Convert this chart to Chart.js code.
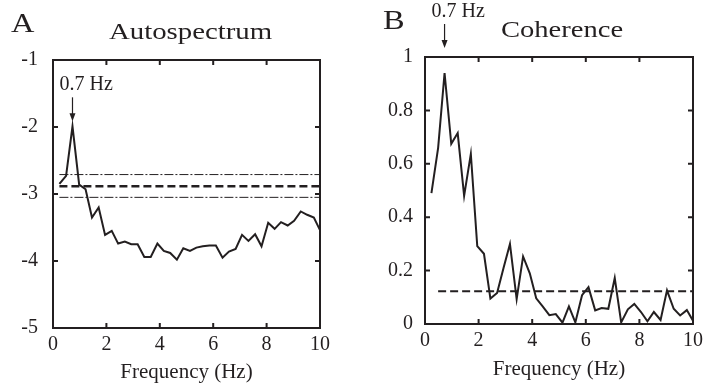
<!DOCTYPE html>
<html>
<head>
<meta charset="utf-8">
<script src="https://cdn.jsdelivr.net/npm/chart.js@4.4.0/dist/chart.umd.min.js"></script>
<style>
  html, body { margin: 0; padding: 0; background: #fff; }
  #wrap { position: relative; width: 708px; height: 385px; overflow: hidden; }
  canvas { position: absolute; top: 0; }
  .lbl {
    position: absolute; font-family: "Liberation Serif", "DejaVu Serif", serif;
    color: #231f20; line-height: 1; white-space: nowrap; transform-origin: 0 0;
  }
</style>
</head>
<body>
<div id="wrap">
  <canvas id="chartA" width="354" height="385" style="left:0"></canvas>
  <canvas id="chartB" width="354" height="385" style="left:354px"></canvas>
  <div class="lbl" style="left:11px;top:10px;font-size:27px;transform:scaleX(1.2)">A</div>
  <div class="lbl" style="left:109px;top:19px;font-size:24px;transform:scaleX(1.2)">Autospectrum</div>
  <div class="lbl" style="left:383px;top:7px;font-size:27px;transform:scaleX(1.2)">B</div>
  <div class="lbl" style="left:501px;top:17px;font-size:24px;transform:scaleX(1.19)">Coherence</div>
</div>
<script>
const ink = "#231f20";
const serif = "'Liberation Serif', 'DejaVu Serif', serif";

// frequency bins (Hz)
const freqs = [0.24, 0.49, 0.73, 0.98, 1.22, 1.46, 1.71, 1.95, 2.20, 2.44,
  2.69, 2.93, 3.17, 3.42, 3.66, 3.91, 4.15, 4.39, 4.64, 4.88,
  5.13, 5.37, 5.61, 5.86, 6.10, 6.35, 6.59, 6.84, 7.08, 7.32,
  7.57, 7.81, 8.06, 8.30, 8.54, 8.79, 9.03, 9.28, 9.52, 9.77, 10.0];

// log autospectrum
const autospectrum = [-2.85, -2.73, -1.99, -2.86, -2.93, -3.35, -3.20, -3.61, -3.55, -3.74,
  -3.71, -3.75, -3.75, -3.94, -3.94, -3.74, -3.85, -3.88, -3.98, -3.81,
  -3.85, -3.80, -3.78, -3.77, -3.77, -3.95, -3.86, -3.82, -3.61, -3.70,
  -3.60, -3.78, -3.43, -3.52, -3.42, -3.47, -3.40, -3.26, -3.31, -3.35, -3.54];

// coherence
const coherence = [0.49, 0.66, 0.94, 0.675, 0.715, 0.48, 0.637, 0.292, 0.263, 0.095,
  0.116, 0.21, 0.30, 0.093, 0.253, 0.19, 0.096, 0.066, 0.033, 0.037,
  0.005, 0.066, 0.006, 0.108, 0.138, 0.051, 0.06, 0.057, 0.172, 0.006,
  0.055, 0.075, 0.045, 0.01, 0.045, 0.015, 0.126, 0.057, 0.032, 0.052, 0.012];

// reference levels
const autoUpper = -2.71;
const autoMean = -2.885;
const autoLower = -3.05;
const coherenceLimit = 0.123;
const peakFreq = 0.73;
const peakLabel = "0.7 Hz";

const pts = (ys) => freqs.map((f, i) => ({ x: f, y: ys[i] }));
const hline = (from, v) => [{ x: from, y: v }, { x: 10, y: v }];

// box frame with inward ticks on all four sides
const framePlugin = {
  id: "frame",
  afterDraw(chart) {
    const { ctx, chartArea: a, scales: { x, y } } = chart;
    ctx.save();
    ctx.strokeStyle = ink;
    ctx.lineWidth = 2;
    ctx.strokeRect(a.left, a.top, a.right - a.left, a.bottom - a.top);
    ctx.beginPath();
    x.ticks.forEach(t => {
      const p = x.getPixelForValue(t.value);
      ctx.moveTo(p, a.bottom); ctx.lineTo(p, a.bottom - 5);
      ctx.moveTo(p, a.top); ctx.lineTo(p, a.top + 5);
    });
    y.ticks.forEach(t => {
      const p = y.getPixelForValue(t.value);
      ctx.moveTo(a.left, p); ctx.lineTo(a.left + 5, p);
      ctx.moveTo(a.right, p); ctx.lineTo(a.right - 5, p);
    });
    ctx.stroke();
    ctx.restore();
  }
};

// "0.7 Hz" label with down arrow
const peakPlugin = {
  id: "peakMark",
  afterDraw(chart, args, opts) {
    const { ctx, chartArea: a, scales: { x, y } } = chart;
    const px = x.getPixelForValue(opts.freq);
    const tip = opts.aboveFrame ? a.top - 9 : y.getPixelForValue(opts.value) - 5;
    ctx.save();
    ctx.strokeStyle = ink;
    ctx.fillStyle = ink;
    ctx.lineWidth = 1.2;
    ctx.beginPath();
    ctx.moveTo(px, tip - 24);
    ctx.lineTo(px, tip - 6);
    ctx.stroke();
    ctx.beginPath();
    ctx.moveTo(px, tip);
    ctx.lineTo(px - 3, tip - 8);
    ctx.lineTo(px + 3, tip - 8);
    ctx.closePath();
    ctx.fill();
    ctx.font = "20px " + serif;
    ctx.textBaseline = "alphabetic";
    ctx.textAlign = "left";
    ctx.fillText(peakLabel, px - 13, tip - 31);
    ctx.restore();
  }
};

function makeChart(id, cfg) {
  return new Chart(document.getElementById(id), {
    type: "line",
    data: { datasets: cfg.datasets },
    options: {
      responsive: false,
      animation: false,
      layout: { padding: cfg.padding },
      elements: { point: { radius: 0 }, line: { tension: 0, borderJoinStyle: "miter" } },
      plugins: {
        legend: { display: false },
        tooltip: { enabled: false },
        peakMark: cfg.peak
      },
      scales: {
        x: {
          type: "linear", min: 0, max: 10,
          grid: { display: false, drawTicks: false },
          border: { display: false },
          ticks: { stepSize: 2, padding: 5, color: ink, font: { family: serif, size: 20 } },
          title: { display: true, text: "Frequency (Hz)", color: ink, padding: 0, font: { family: serif, size: 21 } },
          afterFit: s => { s.height = cfg.xHeight; }
        },
        y: {
          min: cfg.yMin, max: cfg.yMax,
          grid: { display: false, drawTicks: false },
          border: { display: false },
          ticks: {
            stepSize: cfg.yStep, padding: cfg.yPad, color: ink, font: { family: serif, size: 20 },
            callback: v => String(Number(v.toFixed(1)))
          },
          afterFit: s => { s.width = cfg.yWidth; }
        }
      }
    },
    plugins: [framePlugin, peakPlugin]
  });
}

makeChart("chartA", {
  padding: { left: 0, right: 34, top: 60, bottom: 0 },
  xHeight: 57, yWidth: 53, yPad: 15,
  yMin: -5, yMax: -1, yStep: 1,
  peak: { freq: peakFreq, value: autospectrum[2], aboveFrame: false },
  datasets: [
    { data: hline(freqs[0], autoUpper), borderColor: ink, borderWidth: 1, borderDash: [9, 2, 2, 2] },
    { data: hline(freqs[0], autoMean), borderColor: ink, borderWidth: 2.5, borderDash: [8, 4] },
    { data: hline(freqs[0], autoLower), borderColor: ink, borderWidth: 1, borderDash: [9, 2, 2, 2] },
    { data: pts(autospectrum), borderColor: ink, borderWidth: 2 }
  ]
});

makeChart("chartB", {
  padding: { left: 0, right: 14, top: 57, bottom: 3 },
  xHeight: 58, yWidth: 71, yPad: 12,
  yMin: 0, yMax: 1, yStep: 0.2,
  peak: { freq: peakFreq, aboveFrame: true },
  datasets: [
    { data: hline(freqs[1], coherenceLimit), borderColor: ink, borderWidth: 2, borderDash: [8, 4] },
    { data: pts(coherence), borderColor: ink, borderWidth: 2 }
  ]
});
</script>
</body>
</html>
